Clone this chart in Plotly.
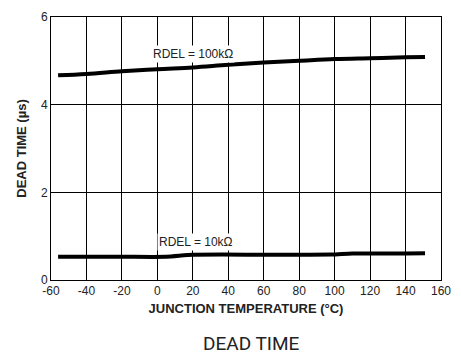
import plotly.graph_objects as go

temp_100k = [-56, -40, -20, 0, 20, 40, 60, 80, 100, 120, 140, 151]
dead_100k = [4.67, 4.70, 4.76, 4.81, 4.85, 4.91, 4.96, 5.00, 5.04, 5.06, 5.08, 5.09]

temp_10k = [-56, -20, 5, 20, 60, 98, 110, 140, 151]
dead_10k = [0.53, 0.53, 0.53, 0.575, 0.578, 0.58, 0.605, 0.605, 0.61]

x_ticks = [-60, -40, -20, 0, 20, 40, 60, 80, 100, 120, 140, 160]
x_tick_labels = ["-60", "-40", "-20", "0", "20", "40", "60", "80", "100", "120", "140", "160"]
y_ticks = [0, 2, 4, 6]

FONT = "Liberation Sans"

fig = go.Figure()
fig.add_trace(go.Scatter(x=temp_100k, y=dead_100k, mode="lines",
                         line=dict(color="black", width=4, shape="spline"), showlegend=False))
fig.add_trace(go.Scatter(x=temp_10k, y=dead_10k, mode="lines",
                         line=dict(color="black", width=4, shape="spline", smoothing=0.6),
                         showlegend=False))

fig.add_annotation(x=20, y=5.16, text="RDEL = 100kΩ", showarrow=False,
                   font=dict(family=FONT, size=12, color="#222"), bgcolor="white")
fig.add_annotation(x=22, y=0.87, text="RDEL = 10kΩ", showarrow=False,
                   font=dict(family=FONT, size=12, color="#222"), bgcolor="white")
fig.add_annotation(xref="paper", yref="paper", x=0.515, y=-0.243, xanchor="center", yanchor="middle",
                   text="DEAD TIME", showarrow=False,
                   font=dict(family="Roboto", size=19, color="#222"))

fig.update_layout(
    width=461, height=357,
    margin=dict(l=51, r=11, t=10, b=77),
    paper_bgcolor="white", plot_bgcolor="white",
    font=dict(family=FONT, size=12, color="#222"),
)
fig.update_xaxes(range=[-60, 160], tickvals=x_ticks, ticktext=x_tick_labels,
                 showgrid=True, gridcolor="black", gridwidth=1,
                 showline=True, linecolor="black", linewidth=1, mirror=True, zeroline=False,
                 ticks="", ticklabelstandoff=0,
                 title=dict(text="<b>JUNCTION TEMPERATURE (°C)</b>", font=dict(size=13), standoff=6))
fig.update_yaxes(range=[0, 6], tickvals=y_ticks, showgrid=True, gridcolor="black", gridwidth=1,
                 showline=True, linecolor="black", linewidth=1, mirror=True, zeroline=False,
                 ticks="",
                 title=dict(text="<b>DEAD TIME (µs)</b>", font=dict(size=13), standoff=11))

fig.write_html("out.html", config={"displayModeBar": False},
               post_script="document.body.style.margin='0';")
